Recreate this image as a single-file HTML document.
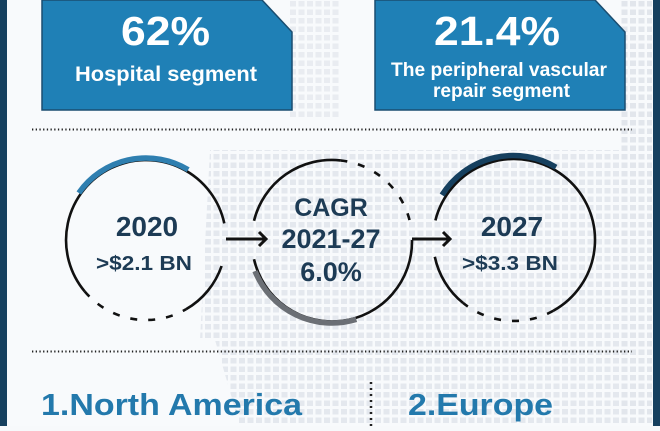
<!DOCTYPE html>
<html><head><meta charset="utf-8"><style>
body{margin:0;width:660px;height:426px;overflow:hidden;background:#f7f9fb;font-family:"Liberation Sans",sans-serif}
</style></head><body>
<svg width="660" height="426" viewBox="0 0 660 426" xmlns="http://www.w3.org/2000/svg">
<defs>
<pattern id="sq" width="8.5" height="8.5" patternUnits="userSpaceOnUse"><rect x="1" y="1" width="6" height="5.5" fill="#e2e6ec"/></pattern>
</defs>
<rect width="660" height="426" fill="#f8fafc"/>
<path d="M290 0H340V120H290Z" fill="url(#sq)" opacity=".7"/>
<path d="M620 0H652V426H620Z" fill="url(#sq)"/>
<path d="M210 150H652V340H200Z" fill="url(#sq)" opacity=".9"/>
<path d="M215 340H652V426H240Z" fill="url(#sq)" opacity=".9"/>
<rect x="0" y="0" width="7" height="426" fill="#16405f"/>
<rect x="653" y="0" width="7" height="426" fill="#16405f"/>
<path d="M42 0H262L292 32V110H42Z" fill="#1f80b6" stroke="#1a4d70" stroke-width="1.5"/>
<path d="M375 0H595L625 32V110H375Z" fill="#1f80b6" stroke="#1a4d70" stroke-width="1.5"/>
<g font-weight="bold" fill="#fff">
<text x="121" y="45" font-size="41" textLength="89" lengthAdjust="spacingAndGlyphs">62%</text>
<text x="75" y="81" font-size="21" textLength="182" lengthAdjust="spacingAndGlyphs">Hospital segment</text>
<text x="434" y="45" font-size="41" textLength="126" lengthAdjust="spacingAndGlyphs">21.4%</text>
<text x="391" y="76" font-size="19" textLength="216" lengthAdjust="spacingAndGlyphs">The peripheral vascular</text>
<text x="433" y="97" font-size="19" textLength="137" lengthAdjust="spacingAndGlyphs">repair segment</text>
</g>
<line x1="32" y1="129.5" x2="632" y2="129.5" stroke="#222" stroke-width="2" stroke-dasharray="1.3 2.4"/>
<line x1="32" y1="351.5" x2="632" y2="351.5" stroke="#222" stroke-width="2" stroke-dasharray="1.3 2.4"/>
<line x1="371" y1="382" x2="371" y2="426" stroke="#222" stroke-width="2.5" stroke-dasharray="2 4"/>
<g fill="none" stroke="#111" stroke-width="2.6">
<path d="M224.3 223.4A80 80 0 1 0 84.7 291.4"/>
<path d="M84.7 291.4A80 80 0 0 0 186 309.3" stroke-dasharray="7 11"/>
<path d="M186 309.3A80 80 0 0 0 221.6 266"/>
<path d="M78.8 192.9A82 82 0 0 1 188.2 169.7" stroke="#2f7fb0" stroke-width="5.5"/>
<path d="M254 220.8A80 80 0 0 1 340.4 160.4"/>
<path d="M340.4 160.4A80 80 0 0 1 410 222" stroke-dasharray="7 11"/>
<path d="M412 240A80 80 0 0 1 254 259.2"/>
<path d="M255 271.1A83 83 0 0 0 356.3 319.4" stroke="#6b6f75" stroke-width="5.5"/>
<path d="M435.4 220.4A81 81 0 1 1 553.3 310.8"/>
<path d="M553.3 310.8A81 81 0 0 1 463 302.9" stroke-dasharray="7 11"/>
<path d="M463 302.9A81 81 0 0 1 434.8 256.8"/>
<path d="M442 195A84 84 0 0 1 556 167.2" stroke="#16405f" stroke-width="5.5"/>
<path d="M226 239H266M259 232L266 239L259 246" stroke-width="3"/>
<path d="M412 239H450M443 232L450 239L443 246" stroke-width="3"/>
</g>
<g font-weight="bold" fill="#1d3b55" text-anchor="middle">
<text x="147" y="236" font-size="28">2020</text>
<text x="144" y="270" font-size="20" textLength="96" lengthAdjust="spacingAndGlyphs">&gt;$2.1 BN</text>
<text x="331" y="216" font-size="25">CAGR</text>
<text x="331" y="248" font-size="27">2021-27</text>
<text x="331" y="281" font-size="27">6.0%</text>
<text x="512" y="236" font-size="28">2027</text>
<text x="510" y="270" font-size="20" textLength="96" lengthAdjust="spacingAndGlyphs">&gt;$3.3 BN</text>
</g>
<text x="41" y="415" font-size="31" font-weight="bold" fill="#2379ac" textLength="261" lengthAdjust="spacingAndGlyphs">1.North America</text>
<text x="408" y="415" font-size="31" font-weight="bold" fill="#2379ac" textLength="145" lengthAdjust="spacingAndGlyphs">2.Europe</text>
</svg>
</body></html>
